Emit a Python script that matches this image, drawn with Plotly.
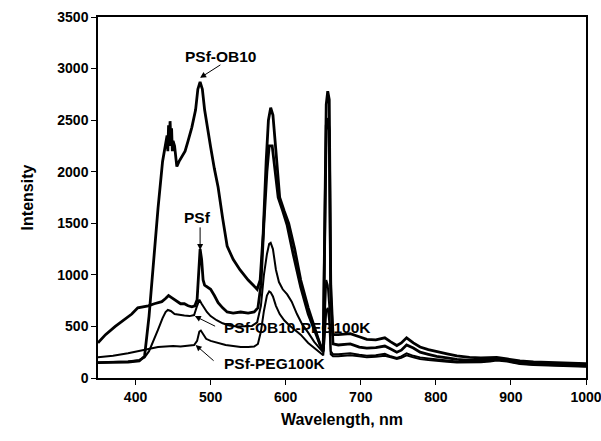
import plotly.graph_objects as go

# ---- data ----
ob10_x = [350,370,390,405,412,418,424,430,436,440,442,443,444,445,446,447,448,449,450,452,455,458,462,466,470,475,480,483,486,489,492,496,500,505,510,516,522,530,539,550,562,566,570,574,577,580,583,587,592,598,604,612,620,630,640,646,650,652,654,656,658,660,663,670,686,698,708,720,732,740,748,754,761,770,779,790,801,815,828,845,860,872,881,895,912,930,950,975,1000]
ob10_y = [150,150,155,165,210,600,1150,1650,2100,2250,2350,2200,2450,2250,2490,2300,2420,2200,2300,2250,2050,2100,2150,2200,2300,2430,2600,2800,2870,2800,2600,2400,2240,2030,1850,1550,1280,1150,1050,950,860,950,1400,2100,2500,2620,2550,2200,1750,1620,1500,1250,950,680,450,320,260,1500,2450,2520,2400,800,330,320,330,300,290,295,310,280,250,270,320,290,250,230,210,195,180,170,170,178,185,170,150,140,135,130,125]

psf_x = [350,360,373,385,395,403,410,417,425,435,440,444,448,452,455,460,465,470,475,479,482,484,486,488,490,492,496,500,505,510,516,522,530,540,550,558,563,567,571,575,578,582,586,590,596,602,610,620,630,640,646,650,652,654,656,658,660,663,670,686,698,708,720,732,740,748,754,761,770,779,790,801,815,828,845,860,872,881,895,912,930,950,975,1000]
psf_y = [340,420,500,570,620,680,690,700,720,740,770,800,780,760,740,720,720,700,690,700,760,1000,1250,1150,950,900,880,860,800,730,680,640,630,640,630,640,680,900,1500,2000,2250,2250,2000,1750,1620,1480,1200,880,620,420,320,280,1600,2650,2780,2700,900,420,420,430,400,375,370,390,350,315,340,390,340,300,275,260,235,215,200,195,198,200,185,165,155,150,145,140]

obpeg_x = [350,370,390,405,412,418,424,430,436,440,443,447,452,458,465,472,478,482,485,488,491,495,500,508,516,525,535,545,555,562,567,571,575,578,580,583,587,591,596,602,608,615,622,630,638,645,650,652,654,656,658,660,663,670,686,698,708,720,732,740,748,754,761,770,779,790,801,815,828,845,860,872,881,895,912,930,950,975,1000]
obpeg_y = [150,155,160,175,200,260,360,470,580,640,660,650,620,610,605,600,610,700,760,720,680,640,600,560,530,510,500,500,505,540,700,1000,1200,1300,1310,1250,1050,930,860,810,740,620,520,440,350,290,250,600,950,900,700,260,230,230,240,225,215,220,235,210,195,210,240,215,200,190,180,170,160,158,160,170,180,165,140,130,125,118,115]

peg_x = [350,370,390,410,420,430,440,450,460,470,478,482,485,487,490,494,500,510,520,530,540,550,558,563,567,571,575,578,580,583,587,592,598,605,612,620,630,640,646,650,652,654,656,658,660,663,670,686,698,708,720,732,740,748,754,761,770,779,790,801,815,828,845,860,872,881,895,912,930,950,975,1000]
peg_y = [200,215,240,270,285,300,305,310,305,310,320,360,450,460,420,380,360,340,320,310,300,300,305,330,450,650,800,840,830,790,700,620,560,510,470,420,340,280,240,220,400,650,680,550,230,210,210,220,210,200,205,215,200,185,195,220,200,185,175,165,158,150,150,152,160,170,160,135,125,120,113,110]

x_ticks = [400, 500, 600, 700, 800, 900, 1000]
y_ticks = [0, 500, 1000, 1500, 2000, 2500, 3000, 3500]

FONT = "Liberation Sans"

fig = go.Figure()
for xs, ys, w, name in [
    (peg_x, peg_y, 2.0, "PSf-PEG100K"),
    (obpeg_x, obpeg_y, 2.0, "PSf-OB10-PEG100K"),
    (psf_x, psf_y, 2.8, "PSf"),
    (ob10_x, ob10_y, 2.8, "PSf-OB10"),
]:
    fig.add_trace(go.Scatter(x=xs, y=ys, mode="lines", name=name,
                             line=dict(color="black", width=w)))

# arrows
arrows = [
    (486, 2910, 515, 3045),
    (486, 1240, 486, 1475),
    (479, 600, 508, 495),
    (480, 320, 506, 155),
]
for x, y, ax, ay in arrows:
    fig.add_annotation(x=x, y=y, ax=ax, ay=ay, axref="x", ayref="y",
                       xref="x", yref="y", text="", showarrow=True,
                       arrowhead=2, arrowsize=1.2, arrowwidth=1, arrowcolor="black")

labels = [
    ("PSf-OB10", 514, 3115, "center"),
    ("PSf", 482, 1560, "center"),
    ("PSf-OB10-PEG100K", 515, 485, "left"),
    ("PSf-PEG100K", 515, 145, "left"),
]
for t, x, y, xa in labels:
    fig.add_annotation(x=x, y=y, text="<b>%s</b>" % t, showarrow=False,
                       xanchor=xa, yanchor="middle",
                       font=dict(family=FONT, size=15.5, color="black"))

fig.update_layout(
    width=601, height=441,
    margin=dict(l=98, r=15, t=17, b=63, autoexpand=False),
    paper_bgcolor="white", plot_bgcolor="white",
    showlegend=False,
    font=dict(family=FONT, size=14, color="black"),
)
fig.update_xaxes(range=[350, 1000], tickvals=x_ticks, automargin=False,
                 ticklabeloverflow="allow",
                 ticktext=["<b>%d</b>" % v for v in x_ticks],
                 showline=True, linecolor="black", linewidth=1.5, mirror=True,
                 ticks="outside", ticklen=5, tickcolor="black", showgrid=False, zeroline=False,
                 title=dict(text="<b>Wavelength, nm</b>", font=dict(size=16), standoff=10))
fig.update_yaxes(range=[0, 3500], tickvals=y_ticks, automargin=False,
                 ticklabeloverflow="allow",
                 ticktext=["<b>%d</b>" % v for v in y_ticks],
                 showline=True, linecolor="black", linewidth=1.5, mirror=True,
                 ticks="outside", ticklen=5, tickcolor="black", showgrid=False, zeroline=False,
                 title=dict(text="<b>Intensity</b>", font=dict(size=16), standoff=20))

fig.write_html("out.html")
